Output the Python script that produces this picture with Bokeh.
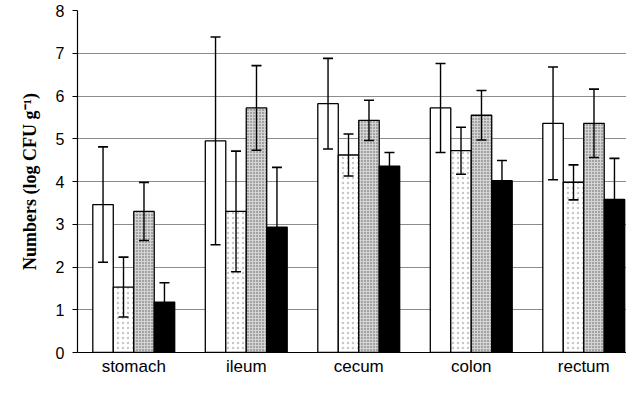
from bokeh.plotting import figure
from bokeh.models import ColumnDataSource, Whisker, FixedTicker, Range1d, TeeHead
from bokeh.embed import file_html
from bokeh.resources import INLINE

categories = ["stomach", "ileum", "cecum", "colon", "rectum"]
s1 = [3.46, 4.95, 5.82, 5.72, 5.36]
s1_err = [1.35, 2.43, 1.06, 1.04, 1.32]
s2 = [1.53, 3.30, 4.62, 4.72, 3.98]
s2_err = [0.70, 1.41, 0.49, 0.55, 0.41]
s3 = [3.30, 5.72, 5.43, 5.55, 5.36]
s3_err = [0.68, 0.99, 0.47, 0.58, 0.80]
s4 = [1.18, 2.93, 4.36, 4.02, 3.58]
s4_err = [0.45, 1.40, 0.32, 0.47, 0.96]
y_ticks = [0, 1, 2, 3, 4, 5, 6, 7, 8]
y_title = "Numbers (log CFU g\u207b\u00b9)"

series = [s1, s2, s3, s4]
errors = [s1_err, s2_err, s3_err, s4_err]

bar_w = 0.182
offsets = [-1.5 * bar_w, -0.5 * bar_w, 0.5 * bar_w, 1.5 * bar_w]
styles = [
    dict(fill_color="white"),
    dict(fill_color="white", hatch_pattern="dot", hatch_color="#c8c8c8", hatch_scale=5, hatch_weight=1),
    dict(fill_color="#d4d4d4", hatch_pattern="dot", hatch_color="#5a5a5a", hatch_scale=3, hatch_weight=1),
    dict(fill_color="black"),
]

p = figure(width=626, height=378, output_backend="svg", toolbar_location=None,
           x_range=Range1d(0, 4.88), y_range=Range1d(0, 8),
           min_border_left=77, min_border_right=0, min_border_top=10, min_border_bottom=24)
p.outline_line_color = None
p.background_fill_color = "white"

centers = [i + 0.5 for i in range(len(categories))]

for vals, errs, off, st in zip(series, errors, offsets, styles):
    xs = [c + off for c in centers]
    src = ColumnDataSource(dict(x=xs, top=vals,
                                upper=[v + e for v, e in zip(vals, errs)],
                                lower=[v - e for v, e in zip(vals, errs)]))
    p.vbar(x="x", top="top", bottom=0, width=bar_w, source=src,
           line_color="black", line_width=1.3, **st)
    w = Whisker(base="x", upper="upper", lower="lower", source=src,
                line_color="black", line_width=1.4, level="overlay",
                upper_head=TeeHead(size=10, line_color="black", line_width=1.6),
                lower_head=TeeHead(size=10, line_color="black", line_width=1.6))
    p.add_layout(w)

# axes
p.xaxis.ticker = FixedTicker(ticks=centers, minor_ticks=[])
p.xaxis.major_label_overrides = {c: n for c, n in zip(centers, categories)}
p.xaxis.major_tick_out = 0
p.xaxis.major_tick_in = 0
p.xaxis.minor_tick_out = 0
p.xaxis.minor_tick_in = 0
p.xaxis.major_label_text_font = "Liberation Sans"
p.xaxis.major_label_text_font_size = "17px"
p.xaxis.major_label_text_color = "black"
p.xaxis.major_label_standoff = 4
p.xaxis.axis_line_color = "black"
p.xaxis.axis_line_width = 1.2

p.yaxis.ticker = FixedTicker(ticks=y_ticks, minor_ticks=[])
p.yaxis.major_tick_out = 5
p.yaxis.major_tick_in = 0
p.yaxis.major_label_text_font = "Liberation Sans"
p.yaxis.major_label_text_font_size = "16px"
p.yaxis.major_label_text_color = "black"
p.yaxis.major_label_standoff = 8
p.yaxis.axis_line_color = "black"
p.yaxis.axis_line_width = 1.2
p.yaxis.axis_label = y_title
p.yaxis.axis_label_text_font = "Liberation Serif"
p.yaxis.axis_label_text_font_style = "bold"
p.yaxis.axis_label_text_font_size = "18px"
p.yaxis.axis_label_text_color = "black"
p.yaxis.axis_label_standoff = 13

p.xgrid.grid_line_color = None
p.ygrid.ticker = FixedTicker(ticks=y_ticks[1:])
p.ygrid.grid_line_color = "#8c8c8c"
p.ygrid.grid_line_width = 1.2
p.ygrid.level = "underlay"

open("out.html", "w").write(file_html(p, INLINE))
